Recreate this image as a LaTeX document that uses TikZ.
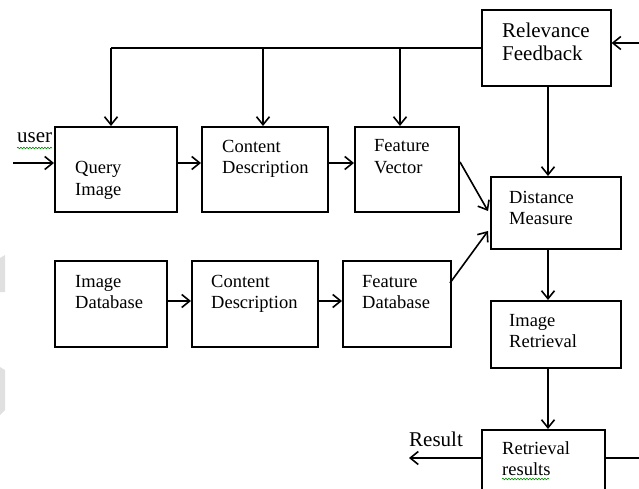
\documentclass[tikz,border=0pt]{standalone}
\usepackage{fontspec}
\setmainfont{Liberation Serif}
\usetikzlibrary{arrows.meta,decorations.pathmorphing}
\begin{document}
\begin{tikzpicture}[x=1pt,y=-1pt,
  box/.style={draw, line width=1.6pt, inner sep=0pt, anchor=north west},
  lbl/.style={anchor=base west, align=left, inner sep=0pt, font=\fontsize{18.5}{21}\selectfont},
  biglbl/.style={lbl, font=\fontsize{21}{23}\selectfont},
  flow/.style={line width=1.6pt, -{Straight Barb[length=8pt,width=13pt,line width=1.6pt]}},
  plain/.style={line width=1.6pt},
  squiggle/.style={draw=green!55!black, line width=0.6pt, decorate,
    decoration={snake, amplitude=0.8pt, segment length=3pt}},
  shade/.style={fill=black!12, draw=none}]
\useasboundingbox (0,0) rectangle (639,489);
\clip (0,0) rectangle (639,489);

% faint grey marks on the left margin
\fill[shade] (0,258) -- (5,255) -- (5,292) -- (0,292) -- cycle;
\fill[shade] (0,367) -- (5,370) -- (5,410) -- (0,415) -- cycle;

% boxes
\node[box, minimum width=122pt, minimum height=85pt] (qi)  at (54,126)  {};
\node[box, minimum width=126pt, minimum height=85pt] (cd1) at (201,126) {};
\node[box, minimum width=104pt, minimum height=85pt] (fv)  at (354,126) {};
\node[box, minimum width=129pt, minimum height=76pt] (rf)  at (481,9)   {};
\node[box, minimum width=130pt, minimum height=72pt] (dm)  at (490,176) {};
\node[box, minimum width=112pt, minimum height=86pt] (idb) at (54,260)  {};
\node[box, minimum width=126pt, minimum height=86pt] (cd2) at (191,260) {};
\node[box, minimum width=108pt, minimum height=86pt] (fdb) at (342,260) {};
\node[box, minimum width=130pt, minimum height=67pt] (ir)  at (490,300) {};
\node[box, minimum width=123pt, minimum height=75pt] (rr)  at (481,429) {};

% box texts (anchored at the baseline of the last line)
\node[lbl] (tqi)  at (75,195)  {Query\\Image};
\node[lbl] (tcd1) at (222,174) {Content\\Description};
\node[lbl] (tfv)  at (374,173) {Feature\\Vector};
\node[biglbl] (trf) at (502,61) {Relevance\\Feedback};
\node[lbl] (tdm)  at (509,224) {Distance\\Measure};
\node[lbl] (tidb) at (75,308)  {Image\\Database};
\node[lbl] (tcd2) at (211,308) {Content\\Description};
\node[lbl] (tfdb) at (362,308) {Feature\\Database};
\node[lbl] (tir)  at (509,347) {Image\\Retrieval};
\node[lbl] (trr)  at (502,475) {Retrieval\\results};
\node[biglbl] (tuser) at (17,143) {user};
\node[biglbl] (tres)  at (409,446) {Result};

% spelling marks under two words
\draw[squiggle] (17,148) -- (52,148);
\draw[squiggle] (502,479) -- (549,479);

% helper points
\coordinate (b1) at (111,48);
\coordinate (b2) at (263,48);
\coordinate (b3) at (400,48);
\coordinate (fbin) at (639,43);
\coordinate (vx) at (548,0);
\coordinate (uin) at (13,163);
\coordinate (row1) at (0,163);
\coordinate (row2) at (0,301);
\coordinate (out) at (409,458);
\coordinate (rend) at (639,458);
\coordinate (fvs) at (460,162);
\coordinate (dmi1) at (488,211);
\coordinate (fds) at (450,283);
\coordinate (dmi2) at (488,231);

% feedback bus
\draw[plain] (b1 -| rf.west) -- (b1);
\draw[flow] (b1) -- (b1 |- qi.north);
\draw[flow] (b2) -- (b2 |- cd1.north);
\draw[flow] (b3) -- (b3 |- fv.north);
\draw[flow] (fbin) -- (fbin -| rf.east);

% main flow
\draw[flow] (uin) -- (uin -| qi.west);
\draw[flow] (row1 -| qi.east) -- (row1 -| cd1.west);
\draw[flow] (row1 -| cd1.east) -- (row1 -| fv.west);
\draw[flow] (row2 -| idb.east) -- (row2 -| cd2.west);
\draw[flow] (row2 -| cd2.east) -- (row2 -| fdb.west);
\draw[flow] (fvs) -- (dmi1);
\draw[flow] (fds) -- (dmi2);
\draw[flow] (rf.south -| vx) -- (dm.north -| vx);
\draw[flow] (dm.south -| vx) -- (ir.north -| vx);
\draw[flow] (ir.south -| vx) -- (rr.north -| vx);
\draw[flow] (out -| rr.west) -- (out);
\draw[plain] (rend -| rr.east) -- (rend);
\end{tikzpicture}
\end{document}
